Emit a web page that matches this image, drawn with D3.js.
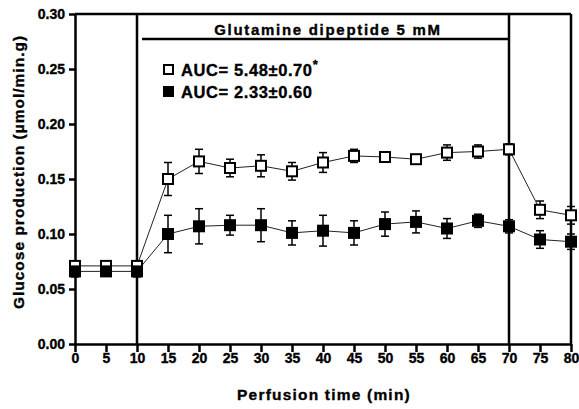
<!DOCTYPE html>
<html>
<head>
<meta charset="utf-8">
<script src="https://cdn.jsdelivr.net/npm/d3@7"></script>
<style>
  body { margin: 0; background: #fff; }
  text { font-family: "Liberation Sans", Arial, sans-serif; font-weight: bold; }
</style>
</head>
<body>
<div id="vis-holder"></div>
<script>
// Chart data
const times = [0, 5, 10, 15, 20, 25, 30, 35, 40, 45, 50, 55, 60, 65, 70, 75, 80];
const openMean = [0.071, 0.071, 0.071, 0.150, 0.166, 0.160, 0.162, 0.157, 0.165, 0.171, 0.170, 0.168, 0.174, 0.175, 0.177, 0.122, 0.117];
const openErr = [0.004, 0.003, 0.004, 0.015, 0.011, 0.008, 0.010, 0.008, 0.009, 0.006, 0.004, 0.004, 0.007, 0.006, 0.005, 0.008, 0.008];
const filledMean = [0.066, 0.066, 0.066, 0.100, 0.107, 0.108, 0.108, 0.101, 0.103, 0.101, 0.109, 0.111, 0.105, 0.112, 0.107, 0.095, 0.093];
const filledErr = [0.005, 0.004, 0.005, 0.017, 0.016, 0.009, 0.015, 0.011, 0.014, 0.011, 0.011, 0.010, 0.009, 0.006, 0.006, 0.008, 0.007];
const xTicks = d3.range(0, 81, 5);
const yTicks = [0, 0.05, 0.10, 0.15, 0.20, 0.25, 0.30];
const periodStart = 10, periodEnd = 70;
const periodLabel = "Glutamine dipeptide 5 mM";
const legendLabels = ["AUC= 5.48\u00b10.70", "AUC= 2.33\u00b10.60"];

const width = 579, height = 409;
const margin = { top: 14, right: 8, bottom: 65, left: 75 };

const svg = d3.select("#vis-holder")
  .append("svg")
  .attr("width", width)
  .attr("height", height);

// Scales
const x = d3.scaleLinear().domain([0, 80]).range([margin.left, width - margin.right]);
const y = d3.scaleLinear().domain([0, 0.30]).range([height - margin.bottom, margin.top]);

// thin outline to make the bold text look heavier, like the original
const heavy = g => g.attr("stroke", "#000").attr("stroke-width", 0.35);

// Y axis
svg.append("g")
  .attr("transform", `translate(${margin.left},0)`)
  .call(d3.axisLeft(y).tickValues(yTicks).tickFormat(d3.format(".2f")).tickSize(6).tickSizeOuter(0))
  .call(g => g.selectAll("text").attr("font-size", "14px").attr("fill", "#000").attr("dx", "-1").call(heavy))
  .call(g => g.selectAll("line, path").attr("stroke", "#000").attr("stroke-width", 2.5));

// X axis
svg.append("g")
  .attr("transform", `translate(0,${y(0)})`)
  .call(d3.axisBottom(x).tickValues(xTicks).tickSize(8).tickSizeOuter(0))
  .call(g => g.selectAll("text").attr("font-size", "14px").attr("fill", "#000").attr("dy", "0.55em").call(heavy))
  .call(g => g.selectAll("line, path").attr("stroke", "#000").attr("stroke-width", 2.5));

// Frame: top border, right border, treatment period lines
const frame = svg.append("g").attr("stroke", "#000").attr("stroke-width", 2.5);
frame.append("line").attr("x1", x(0)).attr("x2", x(80)).attr("y1", y(0.30)).attr("y2", y(0.30));
[periodStart, periodEnd, 80].forEach(t => {
  frame.append("line").attr("x1", x(t)).attr("x2", x(t)).attr("y1", y(0.30)).attr("y2", y(0));
});

// Treatment bar + label
svg.append("line")
  .attr("x1", x(periodStart) + 5).attr("x2", x(periodEnd))
  .attr("y1", 39).attr("y2", 39)
  .attr("stroke", "#000").attr("stroke-width", 2.5);
svg.append("text")
  .attr("x", (x(periodStart) + x(periodEnd)) / 2 + 5)
  .attr("y", 35)
  .attr("text-anchor", "middle")
  .attr("font-size", "15px")
  .attr("letter-spacing", "1.7px")
  .call(heavy)
  .text(periodLabel);

// Series
const series = [
  { mean: openMean, err: openErr, fill: "#fff" },
  { mean: filledMean, err: filledErr, fill: "#000" }
];

const line = d3.line().x((d, i) => x(times[i])).y(d => y(d));
const cap = 4, sq = 10;

series.forEach(s => {
  svg.append("path")
    .attr("d", line(s.mean))
    .attr("fill", "none")
    .attr("stroke", "#222")
    .attr("stroke-width", 1);
});

series.forEach(s => {
  const g = svg.append("g").attr("stroke", "#000").attr("stroke-width", 1.5);
  s.mean.forEach((m, i) => {
    const cx = x(times[i]);
    const e = s.err[i];
    g.append("line").attr("x1", cx).attr("x2", cx).attr("y1", y(m - e)).attr("y2", y(m + e));
    g.append("line").attr("x1", cx - cap).attr("x2", cx + cap).attr("y1", y(m + e)).attr("y2", y(m + e));
    g.append("line").attr("x1", cx - cap).attr("x2", cx + cap).attr("y1", y(m - e)).attr("y2", y(m - e));
  });
});

series.forEach(s => {
  svg.append("g").selectAll("rect")
    .data(s.mean)
    .enter()
    .append("rect")
    .attr("x", (d, i) => x(times[i]) - sq / 2)
    .attr("y", d => y(d) - sq / 2)
    .attr("width", sq)
    .attr("height", sq)
    .attr("fill", s.fill)
    .attr("stroke", "#000")
    .attr("stroke-width", 2);
});

// Legend
const legend = svg.append("g");
legendLabels.forEach((lab, i) => {
  const ly = 69 + i * 22;
  legend.append("rect")
    .attr("x", 164).attr("y", ly - 4).attr("width", 9).attr("height", 9)
    .attr("fill", series[i].fill).attr("stroke", "#000").attr("stroke-width", 2);
  const t = legend.append("text")
    .attr("x", 181).attr("y", ly + 6.5)
    .attr("font-size", "16.5px")
    .attr("letter-spacing", "0.6px")
    .call(heavy)
    .text(lab);
  if (i === 0) {
    t.append("tspan").attr("dy", "-7").attr("font-size", "13px").text("*");
  }
});

// Axis titles
svg.append("text")
  .attr("x", x(40) + 1)
  .attr("y", 400)
  .attr("text-anchor", "middle")
  .attr("font-size", "15.5px")
  .attr("letter-spacing", "1.2px")
  .call(heavy)
  .text("Perfusion time (min)");

svg.append("text")
  .attr("transform", `translate(24,${(y(0) + y(0.30)) / 2 - 7}) rotate(-90)`)
  .attr("text-anchor", "middle")
  .attr("font-size", "15.5px")
  .attr("letter-spacing", "1px")
  .call(heavy)
  .text("Glucose production (\u00b5mol/min.g)");
</script>
</body>
</html>
